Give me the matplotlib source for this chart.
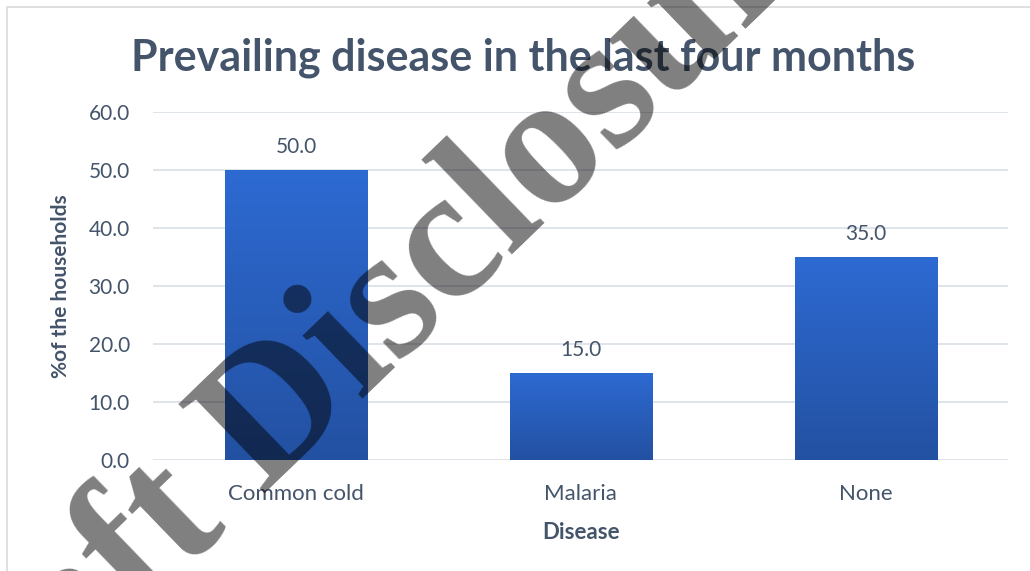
import matplotlib.pyplot as plt
import numpy as np
from matplotlib.colors import LinearSegmentedColormap
from matplotlib.patches import Rectangle

# Prevailing disease chart (recreated)

categories = ['Common cold', 'Malaria', 'None']
values = [50.0, 15.0, 35.0]
yticks = [0, 10, 20, 30, 40, 50, 60]

text_col = '#44546A'
grid_col = '#DCE1E8'
font = ['Lato', 'DejaVu Sans']

fig = plt.figure(figsize=(10.30, 5.71), dpi=100)
ax = fig.add_axes([0.149, 0.1944, 0.830, 0.6095])

# outer chart border
fig.patches.append(Rectangle((7 / 1030, -0.1), 1.2, 1 - 7 / 571 + 0.1,
                             transform=fig.transFigure, fill=False,
                             edgecolor='#D9D9D9', linewidth=1.2))

x = np.arange(len(categories))
bars = ax.bar(x, values, width=0.5, color='none', zorder=3)

grad = LinearSegmentedColormap.from_list('g', ['#2351A2', '#2D6AD2'])
gimg = np.linspace(0, 1, 256).reshape(-1, 1)
for b in bars:
    bx, by = b.get_x(), b.get_y()
    bw, bh = b.get_width(), b.get_height()
    im = ax.imshow(gimg, cmap=grad, origin='lower', aspect='auto',
                   extent=[bx, bx + bw, by, by + bh], zorder=3)
    im.set_clip_path(b)
    ax.text(bx + bw / 2, bh + 2.3, f'{bh:.1f}', ha='center', va='bottom',
            fontsize=15, color=text_col, family=font)

ax.set_xlim(-0.5, 2.5)
ax.set_ylim(0, 60)
ax.set_yticks(yticks)
ax.set_yticklabels([f'{v:.1f}' for v in yticks])
ax.set_xticks(x)
ax.set_xticklabels(categories)
for lab in ax.get_yticklabels():
    lab.set_family(font)
    lab.set_fontsize(15)
    lab.set_color(text_col)
for lab in ax.get_xticklabels():
    lab.set_family(font)
    lab.set_fontsize(16)
    lab.set_color(text_col)
ax.tick_params(length=0)
ax.tick_params(axis='y', pad=17)
ax.tick_params(axis='x', pad=17)
ax.grid(axis='y', color=grid_col, linewidth=1.3, zorder=0)
for s in ax.spines.values():
    s.set_visible(False)

ax.set_xlabel('Disease', fontsize=16, fontweight='bold', color=text_col,
              family=font, labelpad=13)
ax.set_ylabel('%of the households', fontsize=15, fontweight='bold',
              color=text_col, family=font, labelpad=13)

fig.text(0.508, 1 - 58 / 571, 'Prevailing disease in the last four months',
         ha='center', va='center', fontsize=31, fontweight='bold',
         color=text_col, family=font)

# watermark
fig.text(0.345, 1 - 342 / 571, 'Draft Disclosure', ha='center', va='center',
         rotation=44, rotation_mode='anchor', fontsize=135, fontweight='bold',
         family=['Liberation Serif', 'DejaVu Serif'], color='black',
         alpha=0.5, zorder=10)

plt.savefig('out.png', dpi=100)
